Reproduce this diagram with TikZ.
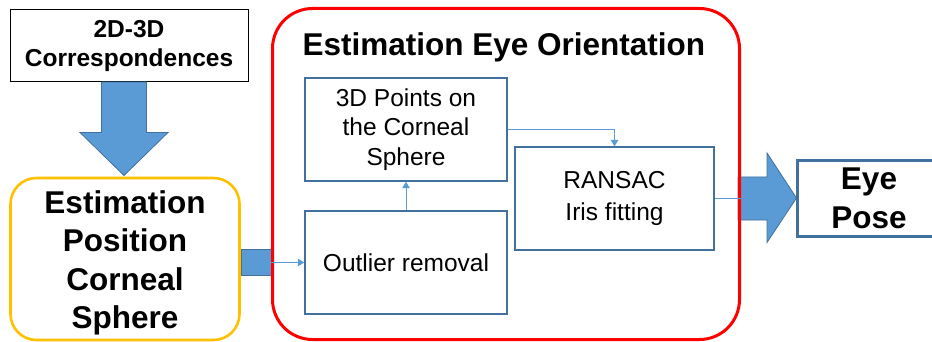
\documentclass[tikz,border=0pt]{standalone}
\usepackage{fontspec}
\setmainfont{Liberation Sans}
\usetikzlibrary{arrows.meta}
\definecolor{fillblue}{HTML}{5B9BD5}
\definecolor{edgeblue}{HTML}{41719C}
\definecolor{boxblue}{HTML}{41719C}
\definecolor{lineblue}{HTML}{5B9BD5}
\definecolor{amber}{HTML}{FFC000}
\definecolor{redline}{HTML}{FF0000}
\tikzset{
  blockarrow/.style={fill=fillblue, draw=edgeblue, line width=0.8pt, line join=miter},
  stepbox/.style={draw=boxblue, line width=1.4pt, fill=white, minimum width=202pt, minimum height=103pt,
    align=center, inner sep=0pt, font=\fontsize{24.5}{29.5}\selectfont},
  flow/.style={draw=lineblue, line width=1pt, -{Triangle[length=6.5pt,width=7.5pt]}},
  boldtext/.style={font=\bfseries\fontsize{31.5}{38.5}\selectfont, align=center},
}
\begin{document}
\begin{tikzpicture}[x=1pt,y=-1pt]
\useasboundingbox (0,0) rectangle (932,342);
\clip (0,0) rectangle (932,342);
\fill[white] (0,0) rectangle (932,342);

% source of correspondences
\node[draw=black, line width=1pt, minimum width=238pt, minimum height=72pt, inner sep=0pt,
  align=center, font=\bfseries\fontsize{24.5}{29.5}\selectfont] (corr) at (129,46)
  {2D-3D\\Correspondences};

% downward block arrow
\draw[blockarrow] (101.5,82) -- (146.5,82) -- (146.5,132.5) -- (168,132.5) -- (124,175.5)
  -- (80,132.5) -- (101.5,132.5) -- cycle;

% corneal sphere position estimate
\node[draw=amber, line width=2.6pt, rounded corners=26pt, minimum width=229pt, minimum height=162pt,
  inner sep=0pt] (sphere) at (125,259) {};
\node[boldtext] (spheretext) at ([yshift=-4pt]sphere.center)
  {Estimation\\Position\\Corneal\\Sphere};

% short block connector into the orientation stage
\draw[blockarrow] (241,249) rectangle (273,275);

% output block arrow
\draw[blockarrow] (738,177) -- (767,177) -- (767,153) -- (796.5,198) -- (767,242.5)
  -- (767,220) -- (738,220) -- cycle;

% orientation stage frame
\node[draw=redline, line width=3pt, rounded corners=40pt, minimum width=467pt, minimum height=331pt,
  inner sep=0pt] (stage) at (506,174) {};
\node[font=\bfseries\fontsize{31.5}{36}\selectfont, anchor=base west] (title) at (299,56)
  {Estimation Eye Orientation};

% inner steps
\node[stepbox] (points) at (406,129.5) {3D Points on\\the Corneal\\Sphere};
\node[stepbox] (outlier) at (406,262.5) {Outlier removal};
\node[stepbox, minimum width=199pt, font=\fontsize{24.5}{32}\selectfont] (ransac) at (614.5,198.5)
  {RANSAC\\Iris fitting};

% connectors between steps
\coordinate (inpt) at (stage.west |- outlier.west);
\draw[flow] (inpt) -- (outlier.west);
\draw[flow] (outlier.north) -- (points.south);
\draw[flow] (points.east |- 0,130) -| (ransac.north);
\coordinate (outpt) at (stage.east |- ransac.east);
\draw[draw=lineblue, line width=1pt] (ransac.east) -- (outpt);

% final result
\node[draw=boxblue, line width=3pt, minimum width=143pt, minimum height=76pt, inner sep=0pt,
  boldtext, text width=143pt] (pose) at (869,198.5) {Eye\\Pose};
\end{tikzpicture}
\end{document}
